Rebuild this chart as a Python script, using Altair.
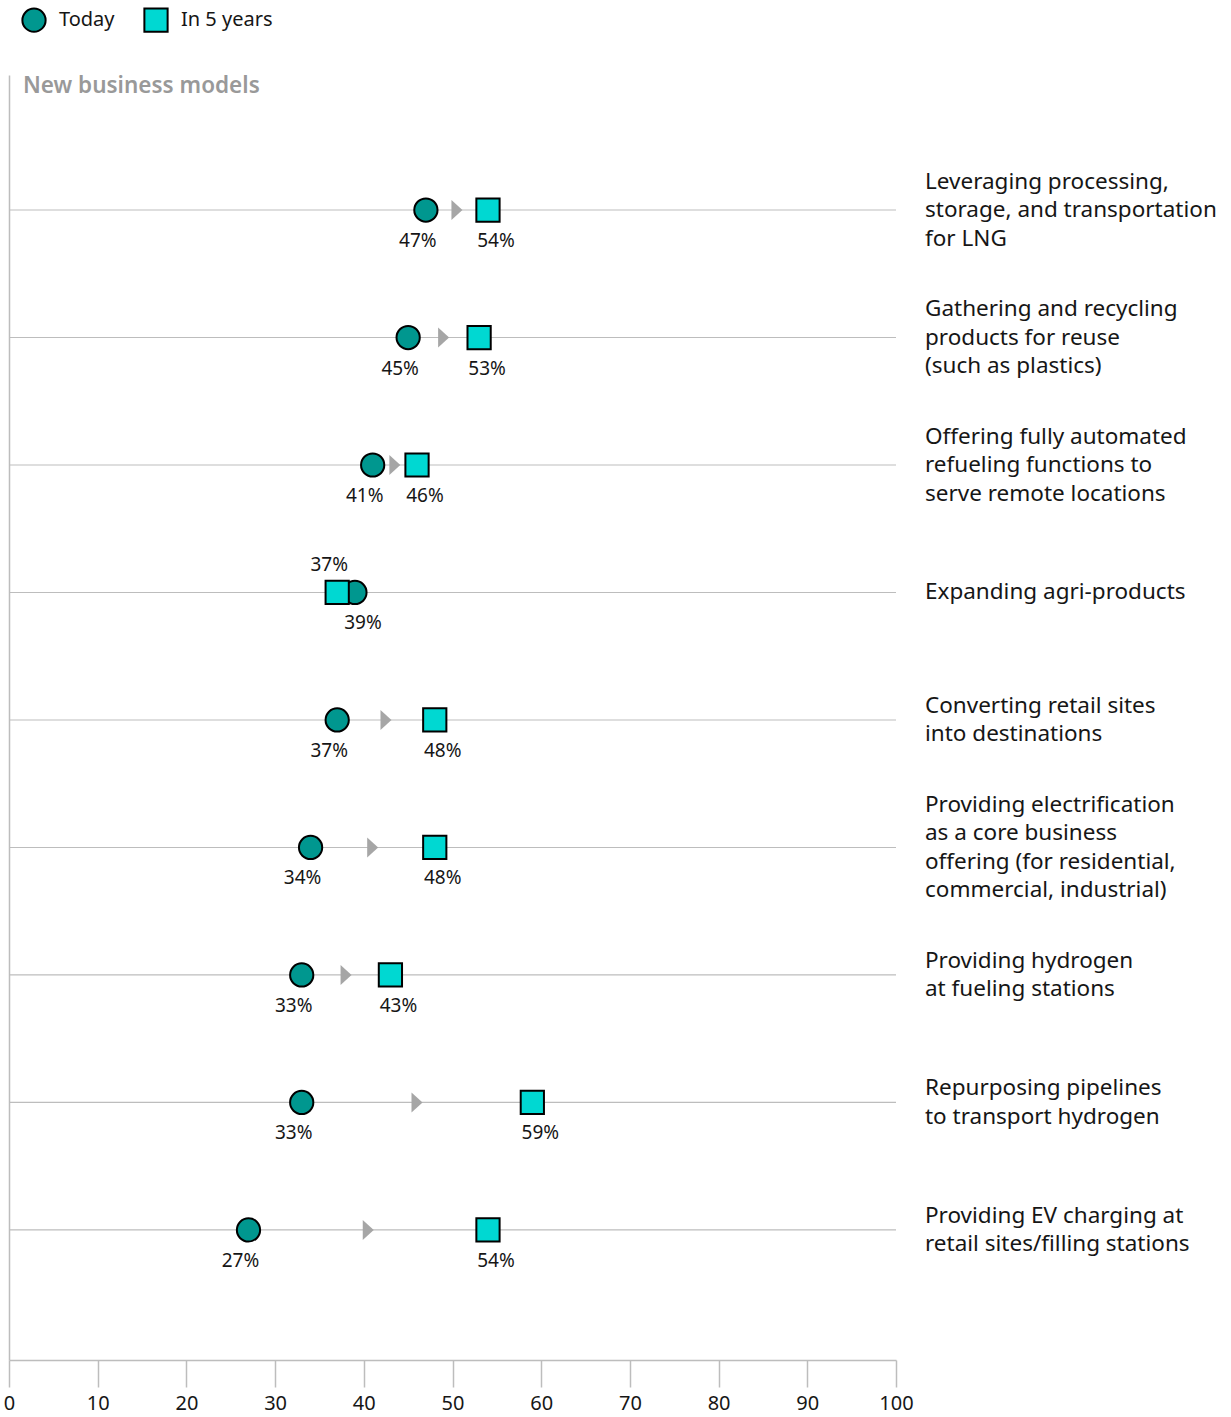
import altair as alt
import pandas as pd

categories = [
    "Leveraging processing,\nstorage, and transportation\nfor LNG",
    "Gathering and recycling\nproducts for reuse\n(such as plastics)",
    "Offering fully automated\nrefueling functions to\nserve remote locations",
    "Expanding agri-products",
    "Converting retail sites\ninto destinations",
    "Providing electrification\nas a core business\noffering (for residential,\ncommercial, industrial)",
    "Providing hydrogen\nat fueling stations",
    "Repurposing pipelines\nto transport hydrogen",
    "Providing EV charging at\nretail sites/filling stations",
]
today = [47, 45, 41, 39, 37, 34, 33, 33, 27]
future = [54, 53, 46, 37, 48, 48, 43, 59, 54]
series_names = ["Today", "In 5 years"]
x_ticks = [0, 10, 20, 30, 40, 50, 60, 70, 80, 90, 100]

W, H = 887, 1285
FONT = "Noto Sans"
TEAL = "#00978F"
CYAN = "#00D8D2"
GRID = "#BDBDBD"
LINE_H = 28.5
TRI_R = "M-0.55,-1L-0.55,1L0.55,0Z"
TRI_L = "M0.55,-1L0.55,1L-0.55,0Z"

rows = pd.DataFrame({
    "idx": list(range(len(categories))),
    "category": categories,
    "today": today,
    "future": future,
})
rows["mid"] = (rows["today"] + rows["future"]) / 2
rows["up"] = [f >= t for t, f in zip(today, future)]
rows["nlines"] = [c.count("\n") + 1 for c in categories]

long_recs = []
for i, (t, f) in enumerate(zip(today, future)):
    for s, v, other in (("Today", t, f), ("In 5 years", f, t)):
        left = v <= other
        above = (s == "In 5 years") and (f < t)
        long_recs.append({"idx": i, "series": s, "value": v,
                          "label": f"{v}%", "left": left, "above": above})
long = pd.DataFrame(long_recs)

yscale = alt.Scale(domain=[-1.059, 9.02], reverse=True, nice=False, zero=False)
xscale = alt.Scale(domain=[0, 100], nice=False)

x_axis = alt.Axis(values=x_ticks, grid=False, title=None, tickSize=27,
                  tickColor=GRID, domainColor=GRID, tickWidth=1.5,
                  domainWidth=1.5, labelFontSize=20, labelColor="#161616",
                  labelPadding=6, labelFont=FONT, labelFlush=False)
y_axis = alt.Axis(ticks=False, labels=False, grid=False, title=None,
                  domainColor=GRID, domainWidth=1.5)


def X(field):
    return alt.X(field, scale=xscale, axis=x_axis, title=None)


def Y():
    return alt.Y("idx:Q", scale=yscale, axis=y_axis, title=None)


grid = alt.Chart(rows).mark_rule(color=GRID, strokeWidth=1.2).encode(
    y=Y(),
    x=alt.datum(0, scale=xscale, axis=x_axis, title=None),
    x2=alt.datum(100),
)

arrows_r = alt.Chart(rows).transform_filter("datum.up").mark_point(
    filled=True, color="#A6A6A6", size=400, opacity=1, shape=TRI_R
).encode(x=X("mid:Q"), y=Y())
arrows_l = alt.Chart(rows).transform_filter("!datum.up").mark_point(
    filled=True, color="#A6A6A6", size=400, opacity=1, shape=TRI_L
).encode(x=X("mid:Q"), y=Y())

legend = alt.Legend(title=None, orient="none", direction="horizontal",
                    legendX=12, legendY=-68, symbolSize=540,
                    symbolStrokeColor="black", symbolStrokeWidth=2,
                    labelFontSize=20, labelFont=FONT,
                    labelColor="#161616", columnPadding=25,
                    symbolOpacity=1, labelOffset=12)

points = alt.Chart(long).mark_point(filled=True, strokeWidth=2,
                                    opacity=1, size=540).encode(
    x=X("value:Q"),
    y=Y(),
    color=alt.Color("series:N", scale=alt.Scale(domain=series_names, range=[TEAL, CYAN]),
                    legend=legend),
    shape=alt.Shape("series:N", scale=alt.Scale(domain=series_names,
                                                range=["circle", "square"]),
                    legend=legend),
    stroke=alt.Stroke("series:N", scale=alt.Scale(domain=series_names,
                                                  range=["black", "black"]),
                      legend=legend),
)


def lbl(filt, dx, dy):
    return alt.Chart(long).transform_filter(filt).mark_text(
        fontSize=19, font=FONT, color="#161616", baseline="middle", dx=dx, dy=dy
    ).encode(x=X("value:Q"), y=Y(), text="label:N")


lbl_left = lbl("datum.left && !datum.above", -8, 31)
lbl_right = lbl("!datum.left && !datum.above", 8, 31)
lbl_above = lbl("datum.above", -8, -27)

cat_layers = []
for n in sorted(set(rows["nlines"])):
    cat_layers.append(
        alt.Chart(rows).transform_filter(f"datum.nlines == {n}").mark_text(
            align="left", baseline="middle", dx=29, dy=-(n - 1) * LINE_H / 2,
            fontSize=22.5, font=FONT, lineBreak="\n", lineHeight=LINE_H,
            color="#161616"
        ).encode(
            x=alt.datum(100, scale=xscale),
            y=Y(),
            text="category:N",
        )
    )

title = alt.Chart(rows).transform_filter("datum.idx == 0").mark_text(
    text="New business models", align="left", baseline="middle", fontSize=22.5,
    font=FONT, fontWeight=600, color="#999999"
).encode(x=alt.value(14), y=alt.value(11))

chart = alt.layer(
    grid, arrows_r, arrows_l, points, lbl_left, lbl_right, lbl_above, *cat_layers, title
).properties(
    width=W, height=H, padding={"left": 3, "top": 7, "right": 5, "bottom": 5}
).configure(
    font=FONT,
    view=alt.ViewConfig(stroke=None),
)

chart.save("out.html", embed_options={"renderer": "svg", "actions": False})
